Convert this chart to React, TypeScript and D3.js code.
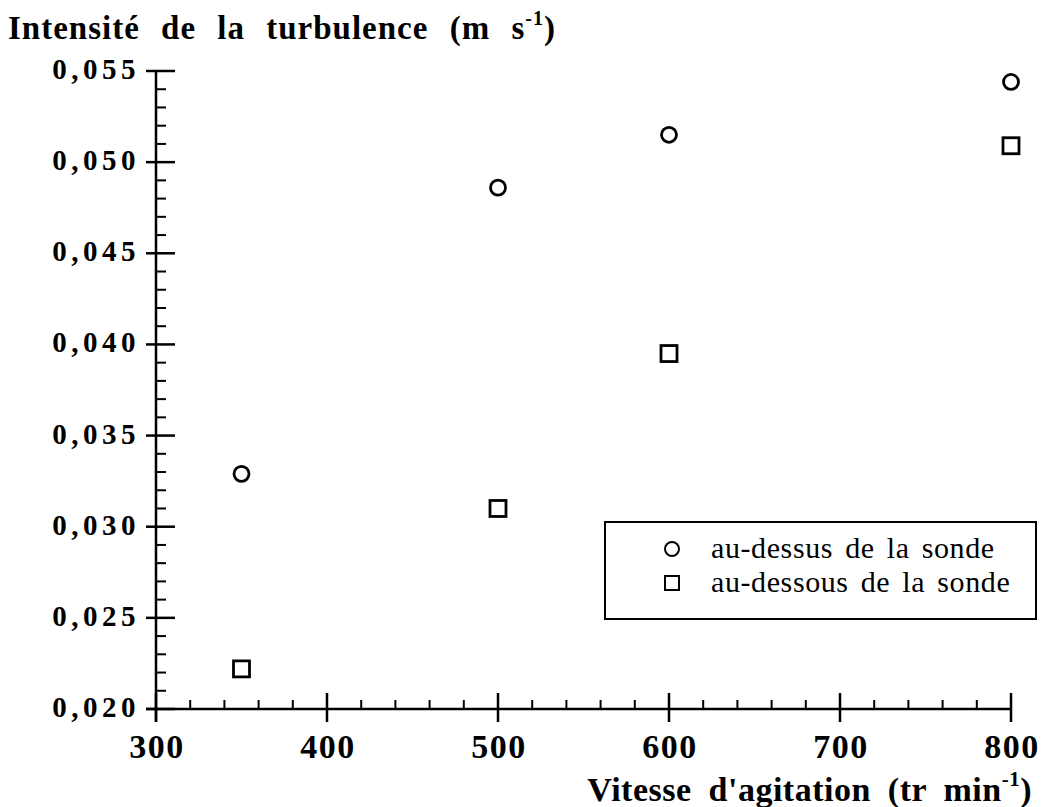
import React from "react";
import * as d3 from "d3";

const vitesses = [350, 500, 600, 800];
const auDessus = [0.0329, 0.0486, 0.0515, 0.0544];
const auDessous = [0.0222, 0.031, 0.0395, 0.0509];
const xTicks = [300, 400, 500, 600, 700, 800];
const yTicks = [0.02, 0.025, 0.03, 0.035, 0.04, 0.045, 0.05, 0.055];
const legendLabels = ["au-dessus de la sonde", "au-dessous de la sonde"];

const W = 1044;
const H = 807;
const FONT = "'Liberation Serif', 'Times New Roman', serif";

export default function App() {
  const x = d3.scaleLinear().domain([300, 800]).range([156, 1011]);
  const y = d3.scaleLinear().domain([0.02, 0.055]).range([709, 71]);
  const x0 = x(300);
  const y0 = y(0.02);
  const xMinor = d3.range(300, 801, 20).filter((v) => v % 100 !== 0);
  const yMinor = d3.range(20, 56, 1).filter((v) => v % 5 !== 0).map((v) => v / 1000);
  const fmt = (v: number) => v.toFixed(3).replace(".", ",");
  const sw = 2.5;

  return (
    <svg width={W} height={H} style={{ position: "absolute", left: 0, top: 0, background: "#fff" }}>
      <rect x={0} y={0} width={W} height={H} fill="#fff" />
      {/* axes */}
      <line x1={x0} y1={y(0.055)} x2={x0} y2={y0 + 13} stroke="#000" strokeWidth={sw} />
      <line x1={x0 - 10} y1={y0} x2={x(800)} y2={y0} stroke="#000" strokeWidth={sw} />
      {yTicks.map((t) => (
        <line key={"ym" + t} x1={x0 - 10} x2={x0 + 19} y1={y(t)} y2={y(t)} stroke="#000" strokeWidth={sw} />
      ))}
      {yMinor.map((t) => (
        <line key={"yn" + t} x1={x0} x2={x0 + 10} y1={y(t)} y2={y(t)} stroke="#000" strokeWidth={2} />
      ))}
      {xTicks.map((t) => (
        <line key={"xm" + t} x1={x(t)} x2={x(t)} y1={y0 - 16} y2={y0 + 13} stroke="#000" strokeWidth={sw} />
      ))}
      {xMinor.map((t) => (
        <line key={"xn" + t} x1={x(t)} x2={x(t)} y1={y0 - 9} y2={y0} stroke="#000" strokeWidth={2} />
      ))}
      {/* tick labels */}
      {yTicks.map((t) => (
        <text key={"yl" + t} x={140} y={y(t) + 8} textAnchor="end" fontFamily={FONT} fontWeight="bold" fontSize={29} letterSpacing={4.5}>
          {fmt(t)}
        </text>
      ))}
      {xTicks.map((t) => (
        <text key={"xl" + t} x={x(t) + 1} y={758} textAnchor="middle" fontFamily={FONT} fontWeight="bold" fontSize={34} letterSpacing={1.5}>
          {t}
        </text>
      ))}
      {/* titles */}
      <text x={8} y={39} fontFamily={FONT} fontWeight="bold" fontSize={33} letterSpacing={1} wordSpacing={12}>
        Intensité de la turbulence (m s
        <tspan fontSize={20} dy={-14}>-1</tspan>
        <tspan dy={14}>)</tspan>
      </text>
      <text x={1032} y={801} textAnchor="end" fontFamily={FONT} fontWeight="bold" fontSize={34} letterSpacing={0.5} wordSpacing={8}>
        Vitesse d'agitation (tr min
        <tspan fontSize={21} dy={-15}>-1</tspan>
        <tspan dy={15}>)</tspan>
      </text>
      {/* data */}
      {vitesses.map((v, i) => (
        <circle key={"c" + v} cx={x(v)} cy={y(auDessus[i])} r={7.5} fill="none" stroke="#000" strokeWidth={2.8} />
      ))}
      {vitesses.map((v, i) => (
        <rect key={"s" + v} x={x(v) - 8} y={y(auDessous[i]) - 8} width={16} height={16} fill="none" stroke="#000" strokeWidth={2.8} />
      ))}
      {/* legend */}
      <rect x={605} y={522} width={431} height={97} fill="#fff" stroke="#000" strokeWidth={2} />
      <circle cx={672} cy={549} r={7} fill="none" stroke="#000" strokeWidth={2} />
      <rect x={665} y={576} width={14} height={14} fill="none" stroke="#000" strokeWidth={2} />
      {legendLabels.map((l, i) => (
        <text key={l} x={711} y={558 + i * 34} fontFamily={FONT} fontSize={30} letterSpacing={0.6} wordSpacing={4}>
          {l}
        </text>
      ))}
    </svg>
  );
}
